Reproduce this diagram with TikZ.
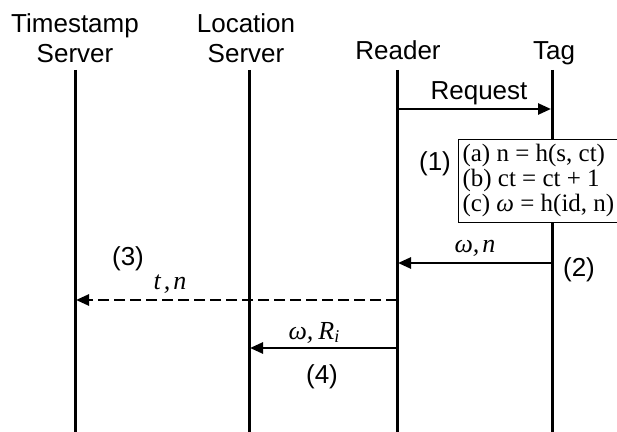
\documentclass[tikz,border=0pt]{standalone}
\usepackage{fontspec}
\setmainfont{Liberation Serif}
\setsansfont{Liberation Sans}
\usetikzlibrary{arrows.meta}

\begin{document}
\begin{tikzpicture}[x=0.5pt,y=-0.5pt,
  lifeline/.style={line width=1.5pt},
  msg/.style={line width=1.3pt,-{Triangle[length=6.5pt,width=5.5pt]}},
  dashmsg/.style={msg,dash pattern=on 5.5pt off 2.5pt},
  sanslabel/.style={font=\sffamily\fontsize{13}{15}\selectfont,inner sep=0pt},
  mathlabel/.style={font=\rmfamily\itshape\fontsize{13}{15}\selectfont,inner sep=0pt},
  head/.style={sanslabel,align=center,anchor=south,text depth=0pt},
  eqbox/.style={draw,line width=0.5pt,fill=white,
    font=\rmfamily\fontsize{12.5}{12.5}\selectfont,align=left,
    inner xsep=2pt,inner ysep=2.5pt}]
\useasboundingbox (0,0) rectangle (617,432);

% participants
\node[head] (hts)  at (75,63)  {Timestamp\\Server};
\node[head] (hls)  at (246,63) {Location\\Server};
\node[head] (hrd)  at (398,60) {Reader};
\node[head] (htg)  at (554,60) {Tag};

% lifelines
\coordinate (ts-top) at (75,70);   \coordinate (ts-bot) at (75,432);
\coordinate (ls-top) at (249,70);  \coordinate (ls-bot) at (249,432);
\coordinate (rd-top) at (397,70);  \coordinate (rd-bot) at (397,432);
\coordinate (tg-top) at (552,70);  \coordinate (tg-bot) at (552,432);
\draw[lifeline] (ts-top) -- (ts-bot);
\draw[lifeline] (ls-top) -- (ls-bot);
\draw[lifeline] (rd-top) -- (rd-bot);
\draw[lifeline] (tg-top) -- (tg-bot);

% message end points on the lifelines
\coordinate (req-r) at (397,109);  \coordinate (req-t) at (551,109);
\coordinate (wn-t)  at (552,263);  \coordinate (wn-r)  at (398,263);
\coordinate (tn-r)  at (397,300);  \coordinate (tn-s)  at (76,300);
\coordinate (wr-r)  at (397,348);  \coordinate (wr-l)  at (250,348);

% messages
\draw[msg] (req-r) -- (req-t);
\draw[msg] (wn-t) -- (wn-r);
\draw[dashmsg] (tn-r) -- (tn-s);
\draw[msg] (wr-r) -- (wr-l);

% computation on the tag
\node[eqbox,anchor=north west] (calc) at (458,139)
  {(a) n = h(s, ct)\\(b) ct = ct + 1\\(c) {\itshape ω} = h(id, n)};

% labels
\node[sanslabel,anchor=base] (lreq) at (479,100) {Request};
\node[sanslabel,anchor=base] (s1) at (435,171) {(1)};
\node[mathlabel,anchor=base] (lwn) at (475,253) {ω,\kern1.5pt n};
\node[sanslabel,anchor=base] (s2) at (579,277) {(2)};
\node[sanslabel,anchor=base] (s3) at (128,266) {(3)};
\node[mathlabel,anchor=base] (ltn) at (170,290) {t\kern1.5pt,\kern1.5pt n};
\node[mathlabel,anchor=base] (lwr) at (314,340)
  {ω,\kern2.5pt R\raisebox{-0.2ex}{\fontsize{9}{9}\selectfont i}};
\node[sanslabel,anchor=base] (s4) at (322,384) {(4)};
\end{tikzpicture}
\end{document}
